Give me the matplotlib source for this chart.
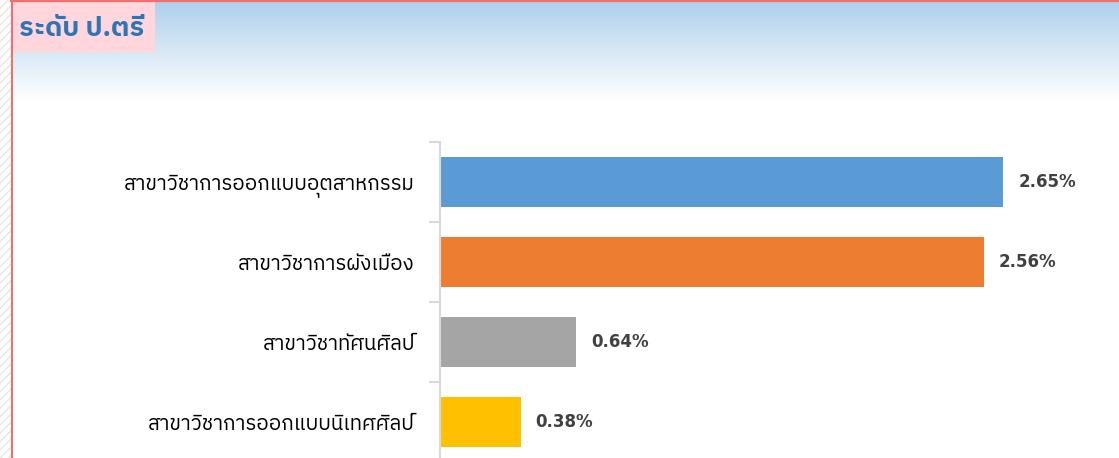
import numpy as np
import matplotlib
matplotlib.use("Agg")
import matplotlib.pyplot as plt
from matplotlib import font_manager
from matplotlib.patches import Rectangle

# ---- data ----
categories = [
    "สาขาวิชาการออกแบบอุตสาหกรรม",
    "สาขาวิชาการผังเมือง",
    "สาขาวิชาทัศนศิลป์",
    "สาขาวิชาการออกแบบนิเทศศิลป์",
]
values = [2.65, 2.56, 0.64, 0.38]
value_labels = ["2.65%", "2.56%", "0.64%", "0.38%"]
bar_colors = ["#5b9bd5", "#ed7d31", "#a5a5a5", "#ffc000"]
title_text = "ระดับ ป.ตรี"

# ---- find a font with Thai glyphs ----
thai_family = None
try:
    from fontTools.ttLib import TTFont
    cands = []
    for f in font_manager.fontManager.ttflist:
        try:
            tt = TTFont(f.fname, fontNumber=0, lazy=True)
            cmap = tt.getBestCmap()
            if cmap and 0x0E2A in cmap:
                cands.append(f.name)
        except Exception:
            pass
    pref = [c for c in cands if "Thai" in c] + cands
    if pref:
        thai_family = pref[0]
except Exception:
    pass
fam = [thai_family, "DejaVu Sans"] if thai_family else ["DejaVu Sans"]
plt.rcParams["font.family"] = fam

W, H = 1119, 458
fig = plt.figure(figsize=(W / 100, H / 100), dpi=100)

# background axes in pixel coordinates
bg = fig.add_axes([0, 0, 1, 1])
bg.set_xlim(0, W)
bg.set_ylim(H, 0)
bg.axis("off")
grad = np.linspace(0, 1, 200)[:, None]
c0 = np.array([0.69, 0.816, 0.918])
c1 = np.array([1.0, 1.0, 1.0])
img = c0[None, None, :] * (1 - grad[:, :, None]) + c1[None, None, :] * grad[:, :, None]
bg.imshow(img, extent=[12, W, 100, 2], aspect="auto", zorder=0)
# left hatched strip
bg.add_patch(Rectangle((0, 0), 11, H, facecolor="white", edgecolor="#e6e6e6",
                       hatch="////", linewidth=0, zorder=1))
# red border
bg.plot([11.5, 11.5], [0, H], color="#f07070", lw=1.5, zorder=3)
bg.plot([11, W], [0.8, 0.8], color="#f07070", lw=1.6, zorder=3)
# title box
bg.add_patch(Rectangle((12, 2), 143, 50, facecolor="#ffd6dc", edgecolor="none", zorder=2))
bg.text(19, 28, title_text, fontsize=19.5, fontweight="bold", color="#2e75b6",
        va="center", ha="left", zorder=4)

# main axes
ax_left, ax_top, ax_bottom = 440, 142, 462
ax = fig.add_axes([ax_left / W, 1 - ax_bottom / H, (W - ax_left) / W, (ax_bottom - ax_top) / H])
ax.patch.set_alpha(0)
ypos = np.arange(len(categories))
ax.barh(ypos, values, height=0.625, color=bar_colors, zorder=2)
ax.set_xlim(0, (W - ax_left) / 212.5)
ax.set_ylim(len(categories) - 0.5, -0.5)
for s in ["top", "right", "bottom"]:
    ax.spines[s].set_visible(False)
ax.spines["left"].set_color("#d9d9d9")
ax.spines["left"].set_linewidth(1.5)
ax.set_xticks([])
ax.set_yticks(np.arange(-0.5, len(categories), 1.0))
ax.set_yticklabels([])
ax.set_yticks(ypos, minor=True)
ax.set_yticklabels(categories, minor=True, fontsize=14.8, color="#000000")
ax.tick_params(axis="y", which="major", length=8, color="#d9d9d9", width=1.5)
ax.tick_params(axis="y", which="minor", length=0, pad=18)
for y, v, lab in zip(ypos, values, value_labels):
    ax.annotate(lab, (v, y), xytext=(15, 0), textcoords="offset pixels",
                va="center", ha="left", fontsize=12, fontweight="bold", color="#404040",
                family="DejaVu Sans")

fig.savefig("out.png", dpi=100)
